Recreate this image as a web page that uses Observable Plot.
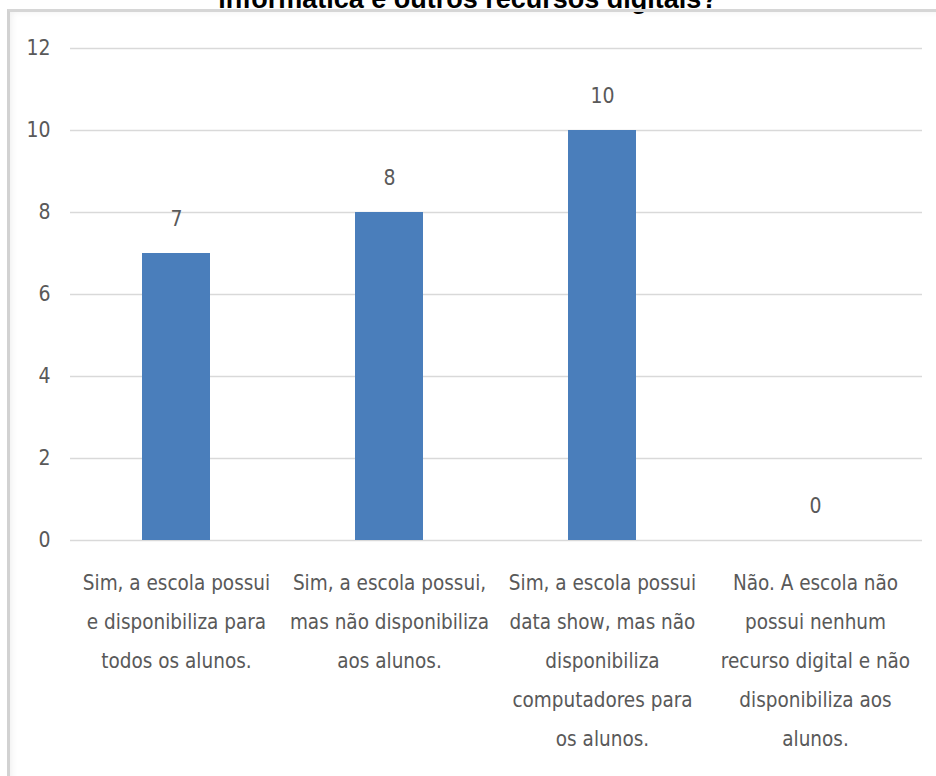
<!DOCTYPE html>
<html>
<head>
<meta charset="utf-8">
<script src="https://cdn.jsdelivr.net/npm/d3@7"></script>
<script src="https://cdn.jsdelivr.net/npm/@observablehq/plot@0.6"></script>
<style>
  html, body { margin: 0; padding: 0; background: #ffffff; overflow: hidden; }
  #wrap { position: relative; width: 936px; height: 776px; overflow: hidden; background: #fff; }
  #title { position: absolute; left: 0; top: -14px; width: 936px; text-align: center;
    font: bold 27px "Liberation Sans", Arial, sans-serif; line-height: 27px; color: #000; white-space: nowrap; }
  #frame { position: absolute; left: 7px; top: 9px; width: 960px; height: 800px;
    border-left: 3px solid #d2d2d2; border-top: 3px solid #d6d6d6;
    box-shadow: inset 6px 4px 6px -4px rgba(0,0,0,0.06); }
  #chart { position: absolute; left: 0; top: 0; }
</style>
</head>
<body>
<div id="wrap">
  <div id="title">informática e outros recursos digitais?</div>
  <div id="frame"></div>
  <div id="chart"></div>
</div>
<script>
const categories = [
  "Sim, a escola possui\ne disponibiliza para\ntodos os alunos.",
  "Sim, a escola possui,\nmas não disponibiliza\naos alunos.",
  "Sim, a escola possui\ndata show, mas não\ndisponibiliza\ncomputadores para\nos alunos.",
  "Não. A escola não\npossui nenhum\nrecurso digital e não\ndisponibiliza aos\nalunos."
];
const values = [7, 8, 10, 0];
const yTicks = [0, 2, 4, 6, 8, 10, 12];

const data = categories.map((c, i) => ({category: c, value: values[i]}));
const font = '"Liberation Sans Narrow", "DejaVu Sans Condensed", "Arial Narrow", sans-serif';
const gray = "#595959";

const chart = Plot.plot({
  width: 936,
  height: 776,
  marginTop: 48,
  marginBottom: 236,
  marginLeft: 70,
  marginRight: 14,
  style: {background: "transparent", fontFamily: font},
  x: {domain: categories, paddingInner: 0.68, paddingOuter: 0.34, axis: null},
  y: {domain: [0, 12], axis: null},
  marks: [
    Plot.gridY(yTicks, {stroke: "#d9d9d9", strokeOpacity: 1, strokeWidth: 1.5}),
    Plot.barY(data, {x: "category", y: "value", fill: "#4a7ebb"}),
    Plot.text(data, {x: "category", y: "value", text: d => String(d.value), dy: -34,
      fontSize: 21, fill: gray, lineAnchor: "middle", fontFamily: font}),
    Plot.axisY(yTicks, {tickSize: 0, tickPadding: 20, fontSize: 21, color: gray, fontFamily: font,
      label: null, tickFormat: d => String(d)}),
    Plot.axisX({tickSize: 0, tickPadding: 22, fontSize: 20.5, lineHeight: 1.9, color: gray,
      fontFamily: font, label: null})
  ]
});
document.getElementById("chart").appendChild(chart);
</script>
</body>
</html>
